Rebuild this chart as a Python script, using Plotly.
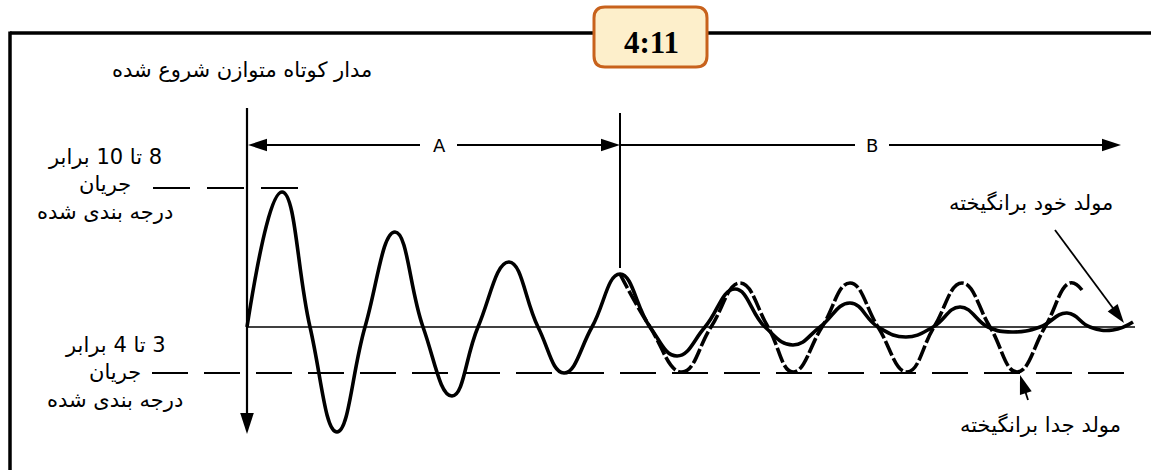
import plotly.graph_objects as go

# ---------------- data (time units, current units) -------------
# common decaying short-circuit current (zone A)
time_A = [0, 35, 63, 90, 118, 148, 176, 205, 231, 262, 291, 317, 345, 373]
current_A = [0, 135, 0, -105, 0, 95, 0, -69, 0, 65, 0, -46, 0, 53]

# self-excited generator (zone B, solid)
time_self = [373, 403, 430, 458, 488, 518, 546, 573, 603, 631, 659, 686, 713, 741,
             765, 793, 820, 843, 866, 886]
current_self = [53, 0, -29, 0, 38, 0, -18, 0, 24, 0, -10, 0, 20, 0, -5, 0, 14, 0, -3, 5]

# separately excited generator (zone B, dashed)
time_sep = [373, 403, 435, 464, 493, 521, 546, 575, 603, 631, 660, 687, 715, 743,
            770, 798, 823, 835]
current_sep = [53, 0, -45, 0, 44, 0, -45, 0, 44, 0, -45, 0, 44, 0, -45, 0, 44, 37]

# reference levels
peak_level = 139          # 8-10 x rated current
sustained_level = -46     # 3-4 x rated current
zone_boundary = 373       # end of zone A / start of zone B
time_end = 888

title_text = "مدار کوتاه متوازن شروع شده"
label_high = ["\u200f8 تا 10 برابر", "جریان", "درجه بندی شده"]
label_low = ["\u200f3 تا 4 برابر", "جریان", "درجه بندی شده"]
label_self = "مولد خود برانگیخته"
label_sep = "مولد جدا برانگیخته"
badge_text = "4:11"

# ---------------- layout constants ----------------
W, H = 1151, 470
X0PX, Y0PX = 247, 327  # pixel position of the origin


def px(xp):
    return xp - X0PX


def py(yp):
    return Y0PX - yp


FONT = "DejaVu Sans"
BLACK = "#000000"

fig = go.Figure()


def line(xs, ys, width, dash=None):
    fig.add_trace(go.Scatter(x=xs, y=ys, mode="lines",
                             line=dict(color=BLACK, width=width, dash=dash),
                             hoverinfo="skip"))


def arrow(x0, y0, x1, y1, width=2, head=20):
    fig.add_trace(go.Scatter(
        x=[x0, x1], y=[y0, y1], mode="lines+markers",
        line=dict(color=BLACK, width=width),
        marker=dict(symbol=["circle", "arrow"], size=[0, head], angleref="previous",
                    color=BLACK, opacity=1, line=dict(width=0)),
        hoverinfo="skip"))


# zero line
line([0, time_end], [0, 0], 1.7)
# reference dashed lines
line([px(153), px(300)], [peak_level, peak_level], 2, "37px,17px")
line([px(152), time_end - 10], [sustained_level, sustained_level], 2, "36px,16px")
# zone boundary marker
line([zone_boundary, zone_boundary], [py(113), current_A[-1] + 6], 2)

# waveforms
fig.add_trace(go.Scatter(x=time_sep, y=current_sep, mode="lines",
                         line=dict(color=BLACK, width=3.6, shape="spline", smoothing=1.3,
                                   dash="16px,3px"),
                         hoverinfo="skip"))
fig.add_trace(go.Scatter(x=time_A + time_self[1:], y=current_A + current_self[1:], mode="lines",
                         line=dict(color=BLACK, width=3.6, shape="spline", smoothing=1.3),
                         hoverinfo="skip"))

# vertical axis with arrow down
arrow(0, py(108), 0, py(434), width=2.2, head=22)
# A / B spans
arrow(px(420), py(145), 1, py(145))
arrow(px(457), py(145), zone_boundary, py(145))
line([zone_boundary, px(855)], [py(145), py(145)], 2)
arrow(px(889), py(145), px(1121), py(145))
# pointer arrows for the two generator types
arrow(px(1055), py(230), px(1124), py(323), width=1.8)
arrow(px(1028), py(400), px(1020), py(375), width=1.8)

ann = []
for txt, xp in (("A", 439), ("B", 872)):
    ann.append(dict(x=px(xp), y=py(145), xref="x", yref="y", text=txt, showarrow=False,
                    font=dict(family=FONT, size=18, color=BLACK)))

# texts
tf = dict(family=FONT, size=21, color=BLACK)
ann.append(dict(x=px(242), y=py(70), xref="x", yref="y", text=title_text, showarrow=False,
                font=tf))
for t, yp in zip(label_high, (157, 184, 212)):
    ann.append(dict(x=px(105), y=py(yp), xref="x", yref="y", text=t, showarrow=False, font=tf))
for t, yp in zip(label_low, (345, 372, 400)):
    ann.append(dict(x=px(115), y=py(yp), xref="x", yref="y", text=t, showarrow=False, font=tf))
ann.append(dict(x=px(1031), y=py(203), xref="x", yref="y", text=label_self, showarrow=False,
                font=tf))
ann.append(dict(x=px(1040), y=py(425), xref="x", yref="y", text=label_sep, showarrow=False,
                font=tf))
ann.append(dict(x=651 / W, y=1 - 42 / H, xref="paper", yref="paper", xanchor="center",
                yanchor="middle", text="<b>" + badge_text + "</b>",
                showarrow=False, font=dict(family="Liberation Serif", size=31, color=BLACK)))


# frame and badge shapes (paper coords)
def X(p):
    return p / W


def Y(p):
    return 1 - p / H


shapes = [
    dict(type="line", xref="paper", yref="paper", x0=X(10), x1=1.0, y0=Y(33), y1=Y(33),
         line=dict(color=BLACK, width=3.5), layer="below"),
    dict(type="line", xref="paper", yref="paper", x0=X(10), x1=X(10), y0=Y(31.5), y1=0,
         line=dict(color=BLACK, width=3.5), layer="below"),
]
bx0, bx1, by0, by1, r = 594, 707, 7, 67, 11
path = (f"M {X(bx0 + r)},{Y(by0)} L {X(bx1 - r)},{Y(by0)} Q {X(bx1)},{Y(by0)} {X(bx1)},{Y(by0 + r)} "
        f"L {X(bx1)},{Y(by1 - r)} Q {X(bx1)},{Y(by1)} {X(bx1 - r)},{Y(by1)} "
        f"L {X(bx0 + r)},{Y(by1)} Q {X(bx0)},{Y(by1)} {X(bx0)},{Y(by1 - r)} "
        f"L {X(bx0)},{Y(by0 + r)} Q {X(bx0)},{Y(by0)} {X(bx0 + r)},{Y(by0)} Z")
shapes.append(dict(type="path", xref="paper", yref="paper", path=path,
                   fillcolor="#fdefcb", line=dict(color="#c8621c", width=3), layer="above"))

fig.update_layout(
    width=W, height=H, margin=dict(l=0, r=0, t=0, b=0),
    paper_bgcolor="white", plot_bgcolor="white", showlegend=False,
    xaxis=dict(range=[px(0), px(W)], visible=False, fixedrange=True),
    yaxis=dict(range=[py(H), py(0)], visible=False, fixedrange=True),
    annotations=ann, shapes=shapes,
)

fig.write_html("out.html", config={"displayModeBar": False},
               post_script="document.body.style.margin='0';document.body.style.padding='0';")
